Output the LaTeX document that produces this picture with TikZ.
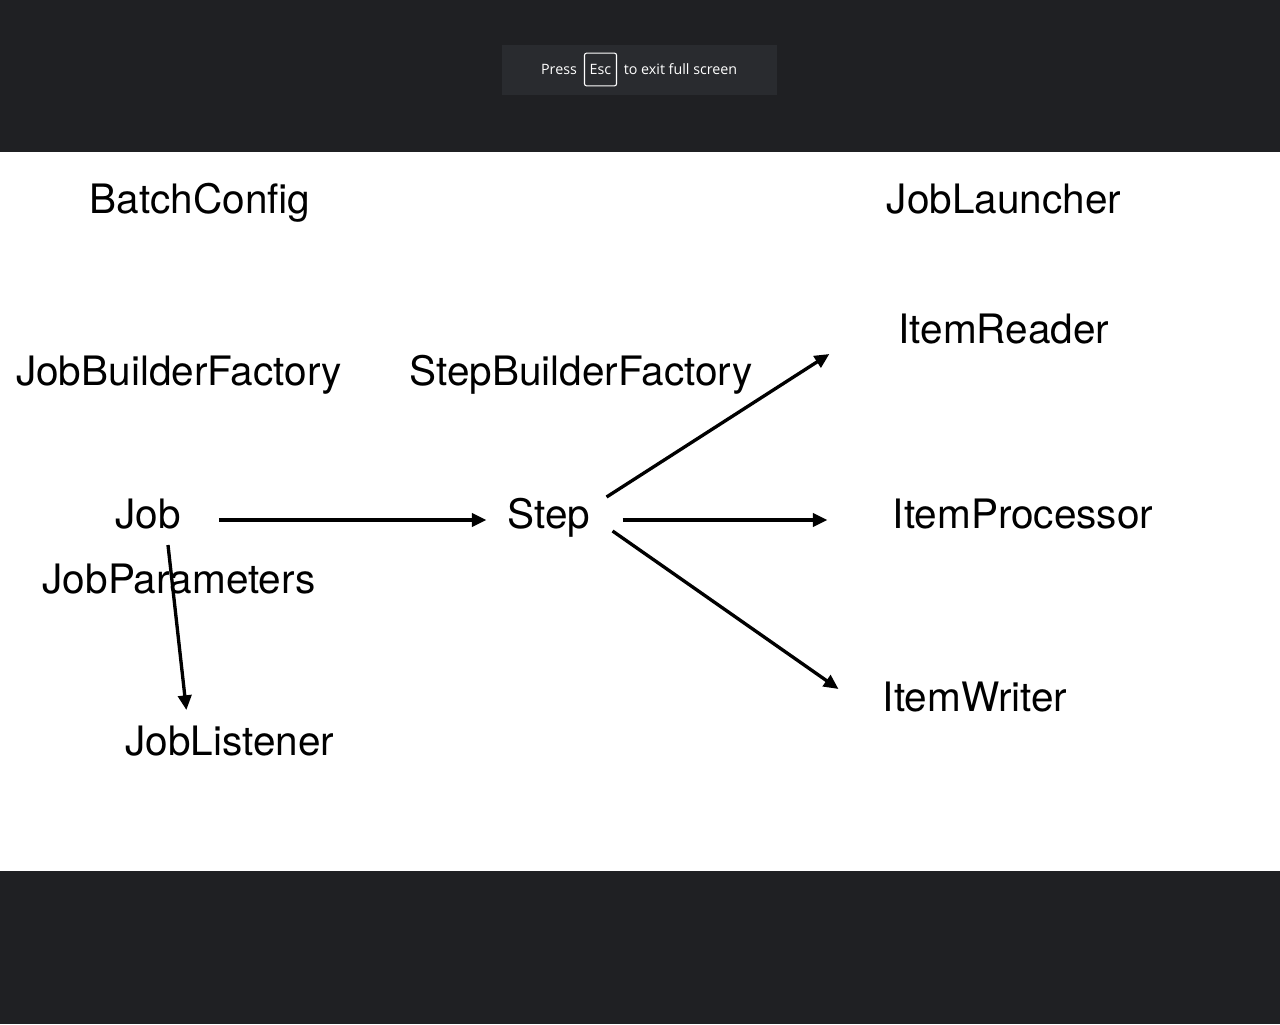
\documentclass[tikz,border=0pt]{standalone}
\usepackage{fontspec}
\setmainfont{TeX Gyre Heros}
\newfontfamily\uifont{Open Sans}
\usetikzlibrary{arrows.meta}

\definecolor{screenbg}{RGB}{31,32,35}
\definecolor{bannerbg}{RGB}{41,43,47}

\tikzset{
  lbl/.style={font=\fontsize{30.4}{36}\selectfont, inner sep=0pt, anchor=base},
  ui/.style={font=\uifont\fontsize{10.7}{13}\selectfont, text=white, inner sep=0pt},
  arr/.style={-{Triangle[length=11pt,width=10pt]}, line width=2.5pt}
}

\begin{document}
\begin{tikzpicture}[x=0.75pt, y=-0.75pt]
\useasboundingbox[fill=screenbg] (0,0) rectangle (1280,1024);
\fill[white] (0,152) rectangle (1280,871);

% full screen banner
\fill[bannerbg] (502,45) rectangle (777,95);
\node[ui] (press) at (559,69.5) {Press};
\node[ui, draw=white, rounded corners=1.5pt, line width=0.8pt, minimum width=24pt, minimum height=24.5pt] (esc) at (600.5,69.5) {Esc};
\node[ui] (exit) at (680.5,69.5) {to exit full screen};

% labels
\node[lbl] (batchconfig) at (200,213) {BatchConfig};
\node[lbl] (joblauncher) at (1004,213) {JobLauncher};
\node[lbl] (itemreader) at (1004,343) {ItemReader};
\node[lbl] (jobbuilderfactory) at (179,385) {JobBuilderFactory};
\node[lbl] (stepbuilderfactory) at (581,385) {StepBuilderFactory};
\node[lbl] (job) at (148,528) {Job};
\node[lbl] (step) at (549,528) {Step};
\node[lbl] (itemprocessor) at (1023,528) {ItemProcessor};
\node[lbl] (jobparameters) at (179,593) {JobParameters};
\node[lbl] (itemwriter) at (975,711) {ItemWriter};
\node[lbl] (joblistener) at (230,755) {JobListener};

% arrows
\draw[arr] ([shift={(38,-8)}]job.base east) -- ([shift={(-21,-8)}]step.base west);
\draw[arr] ([shift={(16,-31)}]step.base east) -- ([shift={(-69,11)}]itemreader.base west);
\draw[arr] ([shift={(32,-8)}]step.base east) -- ([shift={(-65,-8)}]itemprocessor.base west);
\draw[arr] ([shift={(22,3)}]step.base east) -- ([shift={(-44,-22)}]itemwriter.base west);
\draw[arr] ([shift={(20,17)}]job.base) -- ([shift={(61,-45)}]joblistener.base west);

\end{tikzpicture}
\end{document}
